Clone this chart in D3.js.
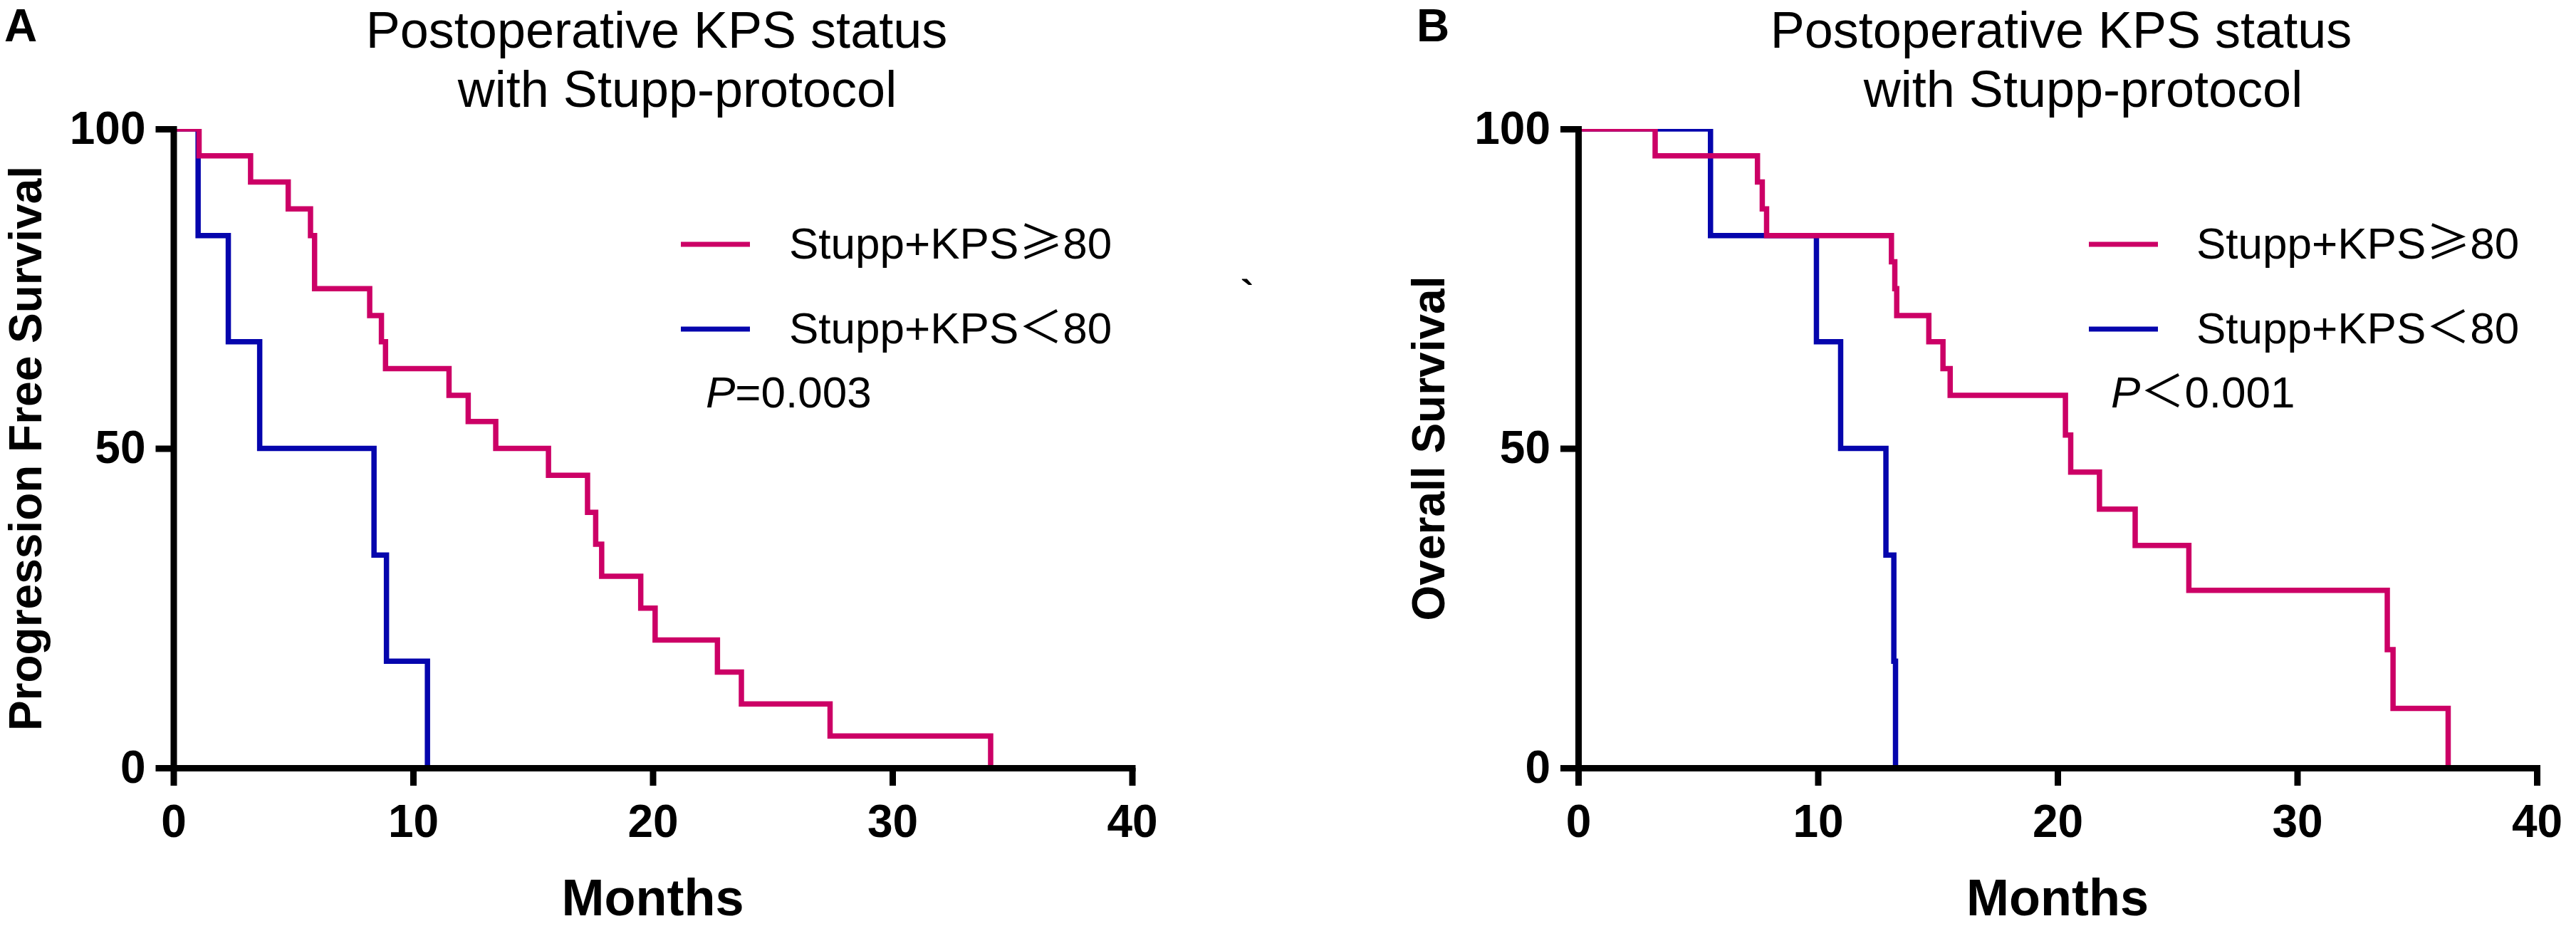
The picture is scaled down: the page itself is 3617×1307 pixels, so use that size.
<!DOCTYPE html>
<html>
<head>
<meta charset="utf-8">
<script src="https://cdn.jsdelivr.net/npm/d3@7"></script>
<style>
  body { margin: 0; background: #fff; }
  svg { display: block; }
</style>
</head>
<body>
<div id="chart"></div>
<script>
// axis ticks
const monthTicks = [0, 10, 20, 30, 40];
const survivalTicks = [0, 50, 100];

// Panel A: progression free survival (months, %)
const pfsHighTime = [1.07, 3.22, 4.79, 5.72, 5.89, 8.19, 8.68, 8.85, 11.5, 12.3, 13.45, 15.65, 17.28, 17.62, 17.87, 19.5, 20.1, 22.7, 23.7, 27.4, 34.1];
const pfsHighSurv = [95.8, 91.7, 87.5, 83.3, 75.0, 70.8, 66.7, 62.5, 58.3, 54.2, 50.0, 45.8, 40.0, 35.0, 30.0, 25.0, 20.0, 15.0, 10.0, 5.0, 0];
const pfsLowTime = [1.03, 2.29, 3.6, 8.37, 8.89, 10.6];
const pfsLowSurv = [83.3, 66.7, 50.0, 33.3, 16.7, 0];

// Panel B: overall survival (months, %)
const osHighTime = [3.21, 7.48, 7.68, 7.86, 13.07, 13.21, 13.29, 14.63, 15.22, 15.52, 20.33, 20.55, 21.75, 23.24, 25.48, 33.76, 34.0, 36.3];
const osHighSurv = [95.8, 91.7, 87.5, 83.3, 79.2, 75.0, 70.8, 66.7, 62.5, 58.3, 52.1, 46.3, 40.5, 34.8, 27.8, 18.5, 9.3, 0];
const osLowTime = [5.52, 9.94, 10.95, 12.84, 13.17, 13.24];
const osLowSurv = [83.3, 66.7, 50.0, 33.3, 16.7, 0];

const groupNames = ["Stupp+KPS", "Stupp+KPS"];
const groupSymbols = ["≥", "＜"];
const groupCut = "80";
const titleLines = ["Postoperative KPS status", "with Stupp-protocol"];

const RED = "#cc0066";
const BLUE = "#0505ad";
const FONT = "'Liberation Sans', Arial, Helvetica, sans-serif";
const CJK = "'Noto Sans CJK SC', 'Liberation Sans', sans-serif";

const W = 3617, H = 1307;
const svg = d3.select("#chart").append("svg")
  .attr("width", W).attr("height", H)
  .style("font-family", FONT);
svg.append("rect").attr("width", W).attr("height", H).attr("fill", "#fff");

const panels = [
  {
    id: "A", letterX: 6, x0: 243.5, yLabel: "Progression Free Survival", yLabelX: 58,
    title1X: 922, title2X: 951, legLineX: 956, legTextX: 1108, pX: 991, pText: "=0.003",
    high: [pfsHighTime, pfsHighSurv], low: [pfsLowTime, pfsLowSurv]
  },
  {
    id: "B", letterX: 1989, x0: 2216, yLabel: "Overall Survival", yLabelX: 2028,
    title1X: 2894, title2X: 2925, legLineX: 2933, legTextX: 3084, pX: 2964, pText: "＜0.001",
    high: [osHighTime, osHighSurv], low: [osLowTime, osLowSurv]
  }
];

const plotW = 1346;
const yTop = 181, yBottom = 1078;

panels.forEach((p) => {
  const x = d3.scaleLinear().domain([0, 40]).range([p.x0, p.x0 + plotW]);
  const y = d3.scaleLinear().domain([0, 100]).range([yBottom, yTop]);
  const g = svg.append("g");

  // panel letter
  g.append("text")
    .attr("x", p.letterX).attr("y", 58)
    .attr("font-size", 64).attr("font-weight", "bold")
    .text(p.id);

  // title
  g.append("text")
    .attr("x", p.title1X).attr("y", 67)
    .attr("text-anchor", "middle").attr("font-size", 72)
    .text(titleLines[0]);
  g.append("text")
    .attr("x", p.title2X).attr("y", 150)
    .attr("text-anchor", "middle").attr("font-size", 72)
    .text(titleLines[1]);

  // curves, clipped to plot area
  const clipId = "clip" + p.id;
  svg.append("clipPath").attr("id", clipId)
    .append("rect")
    .attr("x", x(0)).attr("y", y(100))
    .attr("width", plotW + 20).attr("height", yBottom - yTop);

  const line = d3.line()
    .x((d) => x(d[0]))
    .y((d) => y(d[1]))
    .curve(d3.curveStepAfter);

  const toPoints = (times, surv) => [[0, 100]].concat(times.map((t, k) => [t, surv[k]]));

  const curves = g.append("g").attr("clip-path", `url(#${clipId})`);
  [[p.low, BLUE], [p.high, RED]].forEach(([series, color]) => {
    curves.append("path")
      .datum(toPoints(series[0], series[1]))
      .attr("d", line)
      .attr("fill", "none")
      .attr("stroke", color)
      .attr("stroke-width", 7.5)
      .attr("stroke-linejoin", "miter");
  });

  // axes
  const yAxis = g.append("g")
    .attr("transform", `translate(${x(0)},0)`)
    .call(d3.axisLeft(y).tickValues(survivalTicks).tickSize(25).tickSizeOuter(0).tickPadding(14));
  const xAxis = g.append("g")
    .attr("transform", `translate(0,${y(0)})`)
    .call(d3.axisBottom(x).tickValues(monthTicks).tickSize(25).tickSizeOuter(0).tickPadding(27));

  [yAxis, xAxis].forEach((ax) => {
    ax.select(".domain").attr("stroke", "#000").attr("stroke-width", 9).attr("stroke-linecap", "square");
    ax.selectAll(".tick line").attr("stroke", "#000").attr("stroke-width", 9);
    ax.selectAll(".tick text")
      .attr("fill", "#000")
      .attr("font-family", FONT)
      .attr("font-size", 64)
      .attr("font-weight", "bold");
  });

  // axis titles
  g.append("text")
    .attr("transform", `translate(${p.yLabelX},${(yTop + yBottom) / 2}) rotate(-90)`)
    .attr("text-anchor", "middle")
    .attr("font-size", 64).attr("font-weight", "bold")
    .text(p.yLabel);
  g.append("text")
    .attr("x", x(20)).attr("y", 1285)
    .attr("text-anchor", "middle")
    .attr("font-size", 72).attr("font-weight", "bold")
    .text("Months");

  // legend
  const legendY = [343, 462];
  [RED, BLUE].forEach((color, k) => {
    g.append("line")
      .attr("x1", p.legLineX).attr("x2", p.legLineX + 97)
      .attr("y1", legendY[k]).attr("y2", legendY[k])
      .attr("stroke", color).attr("stroke-width", 7);
    const t = g.append("text")
      .attr("x", p.legTextX).attr("y", legendY[k] + 20)
      .attr("font-size", 62);
    t.append("tspan").text(groupNames[k]);
    t.append("tspan").attr("font-family", CJK).text(groupSymbols[k]);
    t.append("tspan").text(groupCut);
  });

  const pv = g.append("text")
    .attr("x", p.pX).attr("y", 572)
    .attr("font-size", 62);
  pv.append("tspan").attr("font-style", "italic").text("P");
  pv.append("tspan").attr("font-family", p.id === "B" ? CJK : FONT).text(p.pText.charAt(0));
  pv.append("tspan").text(p.pText.slice(1));
});

// small stray mark between the panels
svg.append("text")
  .attr("x", 1742).attr("y", 432)
  .attr("font-size", 56).attr("font-weight", "bold")
  .text("`");
</script>
</body>
</html>
